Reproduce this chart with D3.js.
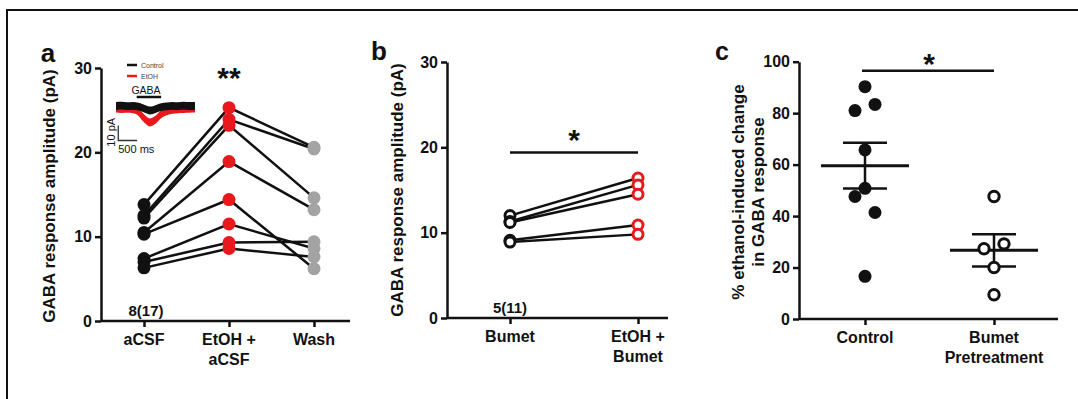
<!DOCTYPE html>
<html>
<head>
<meta charset="utf-8">
<script src="https://cdn.jsdelivr.net/npm/d3@7"></script>
<style>
  body { margin: 0; background: #fff; }
  svg { font-family: "Liberation Sans", Arial, sans-serif; }
  .tick text { font-weight: bold; font-size: 16px; fill: #111; }
  .tick line, .domain { stroke: #111; stroke-width: 2.5px; }
</style>
</head>
<body>
<svg id="chart" width="1078" height="399"></svg>
<script>
// panel a
var catsA = ["aCSF", "EtOH + aCSF", "Wash"];
var aCSF = [13.8, 12.5, 12.2, 10.5, 10.3, 7.4, 7.0, 6.3];
var etohA = [25.3, 23.9, 23.2, 18.9, 14.4, 11.5, 9.3, 8.6];
var wash = [20.6, 20.4, 14.6, 13.2, 6.2, 8.6, 9.4, 7.6];
// panel b
var catsB = ["Bumet", "EtOH + Bumet"];
var bumet = [12.0, 11.3, 11.2, 9.1, 8.9];
var etohB = [16.4, 15.6, 14.5, 10.9, 9.8];
var ampTicks = [0, 10, 20, 30];
// panel c
var catsC = ["Control", "Bumet Pretreatment"];
var controlPct = [90.3, 81, 83.4, 65.7, 47.6, 50.8, 41.4, 16.6];
var controlSlot = [0, -1, 1, 0, -1, 0, 1, 0];
var bumetPct = [47.6, 27.3, 29.2, 20, 9.4];
var bumetSlot = [0, -1, 1, 0, 0];
var pctTicks = [0, 20, 40, 60, 80, 100];
// inset trace (ms, pA)
var traceT = [0, 150, 300, 450, 600, 700, 800, 900, 1000, 1100, 1200, 1350, 1500, 1650, 1800, 1950, 2100];
var traceCtrl = [0, 0.2, -0.1, 0.1, -0.4, -1.3, -2.3, -3.0, -2.6, -1.6, -0.8, -0.2, 0.1, -0.1, 0.2, 0, 0];
var traceEtoh = [-1.8, -2.0, -1.9, -2.2, -4, -7, -9.5, -11, -10, -8, -5.5, -3.5, -2.6, -2.2, -2.0, -1.9, -1.8];

var svg = d3.select("#chart");
var red = "#e8191c", grey = "#a3a3a3";

// frame
svg.append("path").attr("d", "M7,399V10H1078").attr("fill", "none").attr("stroke", "#111").attr("stroke-width", 2);

function yAxis(g, y, ticks) {
  g.call(d3.axisLeft(y).tickValues(ticks).tickSize(6).tickSizeOuter(0).tickPadding(3));
}
function xAxis(g, x, x0, x1) {
  g.call(d3.axisBottom(x).tickSize(6).tickSizeOuter(0).tickFormat(""));
  g.select(".domain").remove();
  g.append("line").attr("x1", x0).attr("x2", x1).attr("stroke", "#111").attr("stroke-width", 2.5);
}
function xLabels(x, y0, lines) {
  lines.forEach(function (l) {
    svg.append("text").attr("x", x).attr("text-anchor", "middle")
      .attr("font-weight", "bold").attr("font-size", 16).attr("fill", "#111")
      .selectAll("tspan").data(l).enter().append("tspan")
      .attr("x", x).attr("y", function (d, i) { return y0 + i * 20; }).text(function (d) { return d; });
  });
}
function txt(x, y, s, size, anchor, rot) {
  var t = svg.append("text").attr("font-weight", "bold").attr("font-size", size)
    .attr("text-anchor", anchor || "middle").attr("fill", "#111").text(s);
  if (rot) t.attr("transform", "translate(" + x + "," + y + ") rotate(-90)");
  else t.attr("x", x).attr("y", y);
  return t;
}

// ---------- panel a ----------
var yA = d3.scaleLinear().domain([0, 30]).range([321, 68]);
var xA = d3.scalePoint().domain(catsA).range([144, 314]);
svg.append("g").attr("transform", "translate(101,0)").call(yAxis, yA, ampTicks);
svg.append("g").attr("transform", "translate(0,321)").call(xAxis, xA, 101, 350);
[["aCSF"], ["EtOH +", "aCSF"], ["Wash"]].forEach(function (l, i) { xLabels(xA(catsA[i]), 345, [l]); });
txt(55, 196, "GABA response amplitude (pA)", 17, "middle", true);
txt(48, 62, "a", 26, "middle");
txt(146, 316, "8(17)", 15);
txt(229, 88, "**", 30);

var rowsA = aCSF.map(function (v, i) { return [v, etohA[i], wash[i]]; });
var lineA = d3.line().x(function (d, i) { return xA(catsA[i]); }).y(function (d) { return yA(d); });
svg.append("g").selectAll("path").data(rowsA).enter().append("path")
  .attr("d", lineA).attr("fill", "none").attr("stroke", "#111").attr("stroke-width", 2.5);
[[aCSF, "#111"], [etohA, red], [wash, grey]].forEach(function (s, k) {
  svg.append("g").selectAll("circle").data(s[0]).enter().append("circle")
    .attr("cx", xA(catsA[k])).attr("cy", function (d) { return yA(d); })
    .attr("r", 6.5).attr("fill", s[1]);
});

// inset
var tx = d3.scaleLinear().domain([0, 2100]).range([116, 195]);
var ty = d3.scaleLinear().domain([0, 10]).range([106, 91]);
var band = d3.area().curve(d3.curveMonotoneX)
  .x(function (d, i) { return tx(traceT[i]); })
  .y0(function (d) { return ty(d - 2.6); }).y1(function (d) { return ty(d + 2.6); });
svg.append("path").attr("d", band(traceEtoh)).attr("fill", red);
svg.append("path").attr("d", band(traceCtrl)).attr("fill", "#111");
svg.append("line").attr("x1", 127).attr("x2", 137).attr("y1", 65).attr("y2", 65).attr("stroke", "#111").attr("stroke-width", 2.5);
svg.append("line").attr("x1", 127).attr("x2", 137).attr("y1", 76).attr("y2", 76).attr("stroke", red).attr("stroke-width", 2.5);
svg.append("text").attr("x", 141).attr("y", 68).attr("font-size", 7).attr("fill", "#444").text("Control");
svg.append("text").attr("x", 141).attr("y", 79).attr("font-size", 7).attr("fill", "#444").text("EtOH");
svg.append("text").attr("x", 146).attr("y", 94).attr("font-size", 10.5).attr("text-anchor", "middle").attr("fill", "#111").text("GABA");
svg.append("line").attr("x1", tx(550)).attr("x2", tx(1200)).attr("y1", 97).attr("y2", 97).attr("stroke", "#111").attr("stroke-width", 2.5);
svg.append("path").attr("d", "M" + tx(60) + "," + ty(-13) + "V" + ty(-23) + "H" + tx(560))
  .attr("fill", "none").attr("stroke", "#333").attr("stroke-width", 1.3);
svg.append("text").attr("transform", "translate(" + (tx(60) - 3) + "," + ty(-17.5) + ") rotate(-90)")
  .attr("font-size", 11).attr("text-anchor", "middle").attr("fill", "#111").text("10 pA");
svg.append("text").attr("x", tx(60)).attr("y", ty(-23) + 12).attr("font-size", 11).attr("fill", "#111").text("500 ms");

// ---------- panel b ----------
var yB = d3.scaleLinear().domain([0, 30]).range([318, 62]);
var xB = d3.scalePoint().domain(catsB).range([510, 638]);
svg.append("g").attr("transform", "translate(447,0)").call(yAxis, yB, ampTicks);
svg.append("g").attr("transform", "translate(0,318)").call(xAxis, xB, 447, 668);
xLabels(xB(catsB[0]), 342, [["Bumet"]]);
xLabels(xB(catsB[1]), 342, [["EtOH +", "Bumet"]]);
txt(403, 190, "GABA response amplitude (pA)", 17, "middle", true);
txt(379, 60, "b", 26);
txt(510, 313, "5(11)", 15);
svg.append("line").attr("x1", xB(catsB[0])).attr("x2", xB(catsB[1])).attr("y1", yB(19.4)).attr("y2", yB(19.4))
  .attr("stroke", "#111").attr("stroke-width", 2.5);
txt(574, 150, "*", 30);
var rowsB = bumet.map(function (v, i) { return [v, etohB[i]]; });
var lineB = d3.line().x(function (d, i) { return xB(catsB[i]); }).y(function (d) { return yB(d); });
svg.append("g").selectAll("path").data(rowsB).enter().append("path")
  .attr("d", lineB).attr("fill", "none").attr("stroke", "#111").attr("stroke-width", 2.5);
[[bumet, "#111"], [etohB, red]].forEach(function (s, k) {
  svg.append("g").selectAll("circle").data(s[0]).enter().append("circle")
    .attr("cx", xB(catsB[k])).attr("cy", function (d) { return yB(d); })
    .attr("r", 5).attr("fill", "#fff").attr("stroke", s[1]).attr("stroke-width", 3);
});

// ---------- panel c ----------
var yC = d3.scaleLinear().domain([0, 100]).range([319, 61.7]);
var xC = d3.scalePoint().domain(catsC).range([865, 994]);
svg.append("g").attr("transform", "translate(799,0)").call(yAxis, yC, pctTicks);
svg.append("g").attr("transform", "translate(0,319)").call(xAxis, xC, 799, 1058);
xLabels(xC(catsC[0]), 343, [["Control"]]);
xLabels(xC(catsC[1]), 343, [["Bumet", "Pretreatment"]]);
txt(744, 192, "% ethanol-induced change", 17, "middle", true);
txt(764, 192, "in GABA response", 17, "middle", true);
txt(722, 60, "c", 25);
svg.append("line").attr("x1", xC(catsC[0]) - 3).attr("x2", xC(catsC[1])).attr("y1", yC(96.5)).attr("y2", yC(96.5))
  .attr("stroke", "#111").attr("stroke-width", 2.5);
txt(929, 74, "*", 30);

[[controlPct, controlSlot, true], [bumetPct, bumetSlot, false]].forEach(function (s, k) {
  var cx = xC(catsC[k]);
  var m = d3.mean(s[0]), sem = d3.deviation(s[0]) / Math.sqrt(s[0].length);
  var g = svg.append("g").attr("stroke", "#111").attr("stroke-width", 2.5);
  g.append("line").attr("x1", cx - 44).attr("x2", cx + 44).attr("y1", yC(m)).attr("y2", yC(m)).attr("stroke-width", 3);
  g.append("line").attr("x1", cx).attr("x2", cx).attr("y1", yC(m - sem)).attr("y2", yC(m + sem));
  [m - sem, m + sem].forEach(function (v) {
    g.append("line").attr("x1", cx - 22).attr("x2", cx + 22).attr("y1", yC(v)).attr("y2", yC(v));
  });
  svg.append("g").selectAll("circle").data(s[0]).enter().append("circle")
    .attr("cx", function (d, i) { return cx + s[1][i] * 10; })
    .attr("cy", function (d) { return yC(d); })
    .attr("r", s[2] ? 6.5 : 5.2)
    .attr("fill", s[2] ? "#111" : "#fff")
    .attr("stroke", "#111").attr("stroke-width", s[2] ? 0 : 3);
});
</script>
</body>
</html>
